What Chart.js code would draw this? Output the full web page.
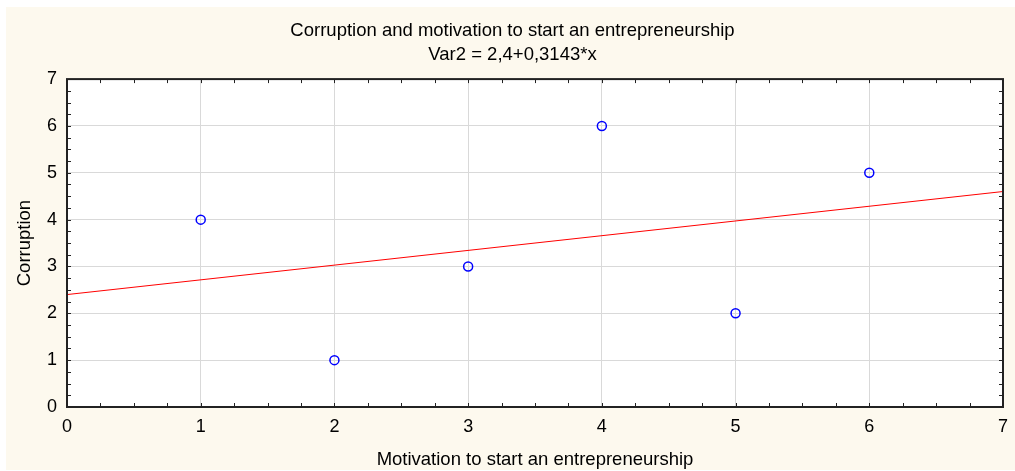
<!DOCTYPE html>
<html>
<head>
<meta charset="utf-8">
<script src="https://cdn.jsdelivr.net/npm/chart.js@4/dist/chart.umd.min.js"></script>
<style>
  html, body { margin: 0; padding: 0; background: #fff; overflow: hidden; }
  #c { display: block; }
</style>
</head>
<body>
<canvas id="c" width="1015" height="471"></canvas>
<script>
// data
const motivation = [1, 2, 3, 4, 5, 6];
const corruption = [4, 1, 3, 6, 2, 5];
// fitted line Var2 = 2,4+0,3143*x, ends of the axis range
const fitX = [0, 7];
const fitY = [2.4, 4.6];
const titleLines = ['Corruption and motivation to start an entrepreneurship', 'Var2 = 2,4+0,3143*x'];

const FONT = 'Arial, "Liberation Sans", sans-serif';

// cream panel, frame and the small inside ticks
const framePlugin = {
    id: 'frame',
    beforeDraw(chart) {
        const ctx = chart.ctx;
        ctx.save();
        ctx.fillStyle = '#ffffff';
        ctx.fillRect(0, 0, chart.width, chart.height);
        ctx.fillStyle = '#fdf9ee';
        ctx.fillRect(6, 7, chart.width - 6, chart.height - 8);
        const a = chart.chartArea;
        ctx.fillStyle = '#ffffff';
        ctx.fillRect(a.left, a.top, a.right - a.left, a.bottom - a.top);
        ctx.restore();
    },
    afterDatasetsDraw(chart) {
        const ctx = chart.ctx;
        const a = chart.chartArea;
        const xs = chart.scales.x, ys = chart.scales.y;
        ctx.save();
        ctx.strokeStyle = '#222';
        ctx.lineWidth = 1;
        ctx.beginPath();
        for (let v = 0; v <= 7; v += 0.25) {
            const px = Math.round(xs.getPixelForValue(v)) + 0.5;
            ctx.moveTo(px, a.bottom); ctx.lineTo(px, a.bottom - 4);
            ctx.moveTo(px, a.top); ctx.lineTo(px, a.top + 4);
            const py = Math.round(ys.getPixelForValue(v)) + 0.5;
            ctx.moveTo(a.left, py); ctx.lineTo(a.left + 4, py);
            ctx.moveTo(a.right, py); ctx.lineTo(a.right - 4, py);
        }
        ctx.stroke();
        ctx.lineWidth = 2;
        ctx.strokeRect(a.left, a.top, a.right - a.left, a.bottom - a.top);
        ctx.restore();
    }
};

new Chart(document.getElementById('c'), {
    type: 'scatter',
    data: {
        datasets: [
            {
                label: 'Corruption',
                data: motivation.map((x, i) => ({ x: x, y: corruption[i] })),
                pointRadius: 4.5,
                pointBorderWidth: 1.5,
                pointBorderColor: '#0000ff',
                pointBackgroundColor: 'rgba(0,0,0,0)',
                showLine: false
            },
            {
                label: 'fit',
                data: fitX.map((x, i) => ({ x: x, y: fitY[i] })),
                showLine: true,
                borderColor: '#ff0000',
                borderWidth: 1,
                pointRadius: 0
            }
        ]
    },
    options: {
        responsive: false,
        animation: false,
        devicePixelRatio: 1,
        layout: { padding: { left: 10, right: 0, top: 0, bottom: 0 } },
        plugins: {
            legend: { display: false },
            tooltip: { enabled: false },
            title: {
                display: true,
                text: titleLines,
                color: '#000',
                font: { family: FONT, size: 18.5, weight: 'normal', lineHeight: 1.3 },
                padding: { top: 19, bottom: 12 }
            }
        },
        scales: {
            x: {
                type: 'linear',
                min: 0, max: 7,
                ticks: { stepSize: 1, color: '#000', padding: 9, font: { family: FONT, size: 18 } },
                grid: { color: '#d9d9d9', lineWidth: 1, drawTicks: false },
                border: { display: false },
                title: {
                    display: true,
                    text: 'Motivation to start an entrepreneurship',
                    color: '#000',
                    font: { family: FONT, size: 18.5 },
                    padding: { top: 0, bottom: 0 }
                },
                afterFit(s) {
                    s.height = 64;
                    // let the end labels hang over, the side strips set the frame
                    s.paddingLeft = 0;
                    s.paddingRight = 0;
                }
            },
            y: {
                type: 'linear',
                min: 0, max: 7,
                ticks: { stepSize: 1, color: '#000', padding: 10, font: { family: FONT, size: 18 } },
                grid: { color: '#d9d9d9', lineWidth: 1, drawTicks: false },
                border: { display: false },
                title: {
                    display: true,
                    text: 'Corruption',
                    color: '#000',
                    font: { family: FONT, size: 18.5 },
                    padding: { top: 4, bottom: 0 }
                },
                afterFit(s) { s.width = 57; }
            },
            // empty strip on the right so the frame stops at x = 1003
            yRight: {
                type: 'linear',
                position: 'right',
                min: 0, max: 7,
                grid: { display: false },
                ticks: { display: false },
                border: { display: false },
                afterFit(s) { s.width = 12; }
            }
        }
    },
    plugins: [framePlugin]
});
</script>
</body>
</html>
